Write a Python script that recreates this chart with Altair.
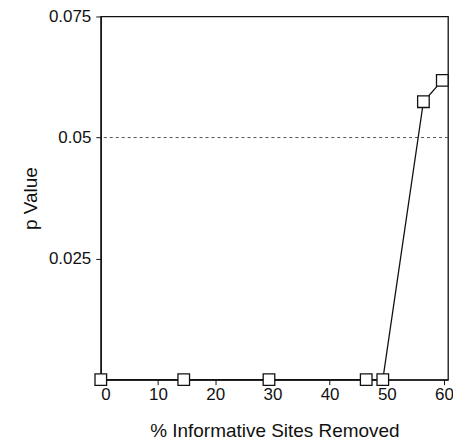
import altair as alt
import pandas as pd

pct_removed = [0, 14.5, 29.4, 46.4, 49.3, 56.4, 59.7]
p_values = [0.0, 0.0, 0.0, 0.0, 0.0, 0.0574, 0.0618]
threshold = [0.05]
x_ticks = [0, 10, 20, 30, 40, 50, 60]
y_ticks = [0.025, 0.05, 0.075]

df = pd.DataFrame({"x": pct_removed, "p": p_values})
thr = pd.DataFrame({"p": threshold})

FONT = "Liberation Sans"

x_enc = alt.X("x:Q", scale=alt.Scale(domain=[0, 60.7], nice=False, zero=False),
              axis=alt.Axis(values=x_ticks, title="% Informative Sites Removed", grid=False))
y_enc = alt.Y("p:Q", scale=alt.Scale(domain=[0, 0.075], nice=False),
              axis=alt.Axis(values=y_ticks, title="p Value", grid=False,
                            labelExpr="datum.value == 0.05 ? '0.05' : format(datum.value, '.3f')"))

line = alt.Chart(df).mark_line(color="#111", strokeWidth=1.3, clip=False).encode(x=x_enc, y=y_enc)
pts = alt.Chart(df).mark_point(shape="square", filled=True, fill="white", stroke="#111",
                               strokeWidth=1.3, size=135, opacity=1, clip=False).encode(x=x_enc, y=y_enc)
rule = alt.Chart(thr).mark_rule(color="#555", strokeDash=[3, 3], strokeWidth=1).encode(y="p:Q")

chart = alt.layer(rule, line, pts).properties(
    width=348, height=364,
    autosize=alt.AutoSizeParams(type="none"),
    padding={"left": 93, "top": 8, "right": 5, "bottom": 66},
).configure_view(stroke="#111", strokeWidth=1.3).configure_axis(
    domainColor="#111", tickColor="#111", tickSize=5, labelFont=FONT, titleFont=FONT,
    labelFontSize=17, titleFontSize=19, titleFontWeight="normal", labelColor="#111", titleColor="#111",
    domainWidth=1.3, tickWidth=1,
).configure_axisY(titlePadding=8, labelPadding=5).configure_axisX(titlePadding=19, labelPadding=2)

chart.save("out.html", embed_options={"renderer": "svg", "actions": False})
